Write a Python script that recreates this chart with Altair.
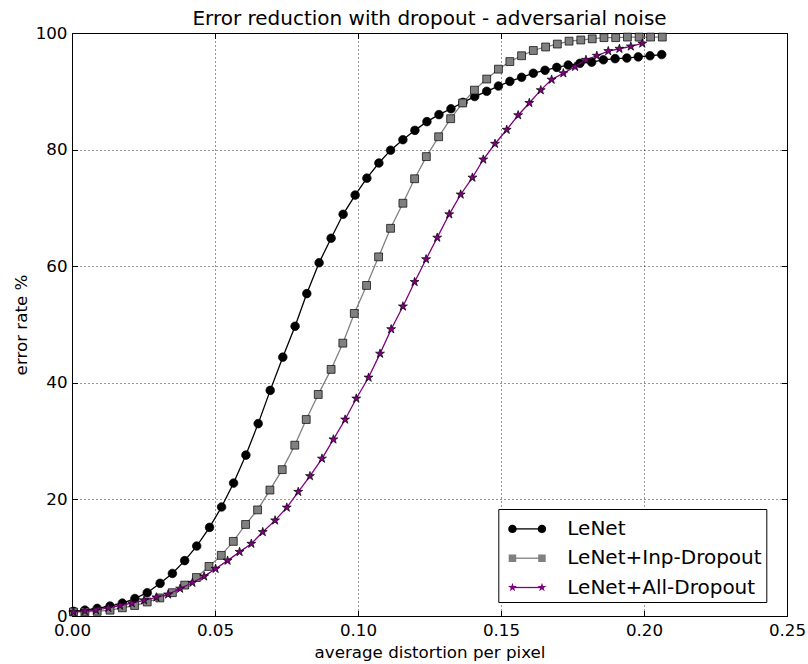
import math
import altair as alt
import pandas as pd

# ---------------- data ----------------
series_names = ["LeNet", "LeNet+Inp-Dropout", "LeNet+All-Dropout"]
series_colors = ["black", "#808080", "#800080"]
marker_fills = ["black", "#808080", "#800080"]

lenet_x = [0.0005, 0.0045, 0.0088, 0.0133, 0.0176, 0.0220, 0.0263, 0.0308, 0.0351, 0.0394,
           0.0436, 0.0481, 0.0523, 0.0565, 0.0608, 0.0651, 0.0693, 0.0737, 0.0780, 0.0821,
           0.0864, 0.0906, 0.0948, 0.0990, 0.1031, 0.1073, 0.1114, 0.1157, 0.1199, 0.1241,
           0.1283, 0.1325, 0.1367, 0.1408, 0.1450, 0.1491, 0.1531, 0.1572, 0.1613, 0.1654,
           0.1695, 0.1735, 0.1776, 0.1817, 0.1858, 0.1899, 0.1940, 0.1980, 0.2021, 0.2062]
lenet_y = [0.8, 1.0, 1.3, 1.7, 2.2, 3.0, 4.0, 5.6, 7.3, 9.5,
           12.0, 15.2, 18.7, 22.8, 27.6, 33.0, 38.7, 44.4, 49.7, 55.3,
           60.6, 64.8, 68.9, 72.2, 75.1, 77.7, 79.9, 81.7, 83.3, 84.8,
           86.0, 87.0, 88.1, 89.1, 90.0, 90.9, 91.7, 92.4, 93.1, 93.6,
           94.1, 94.5, 94.8, 95.0, 95.4, 95.6, 95.7, 95.9, 96.1, 96.3]

inp_x = [0.0005, 0.0045, 0.0088, 0.0133, 0.0176, 0.0219, 0.0263, 0.0307, 0.0351, 0.0394,
         0.0435, 0.0479, 0.0522, 0.0564, 0.0607, 0.0649, 0.0692, 0.0735, 0.0779, 0.0819,
         0.0861, 0.0906, 0.0947, 0.0987, 0.1030, 0.1072, 0.1114, 0.1157, 0.1198, 0.1239,
         0.1282, 0.1324, 0.1366, 0.1407, 0.1450, 0.1491, 0.1531, 0.1572, 0.1613, 0.1656,
         0.1697, 0.1738, 0.1779, 0.1819, 0.1860, 0.1901, 0.1942, 0.1983, 0.2023, 0.2064]
inp_y = [0.7, 0.7, 0.8, 1.0, 1.4, 1.8, 2.4, 3.1, 4.0, 5.3,
         6.6, 8.5, 10.4, 12.8, 15.7, 18.2, 21.6, 25.1, 29.3, 33.7,
         38.0, 42.3, 46.8, 51.9, 56.7, 61.6, 66.5, 70.8, 75.0, 78.8,
         82.2, 85.3, 88.0, 90.2, 92.1, 93.8, 95.1, 96.1, 97.0, 97.6,
         98.1, 98.6, 98.8, 99.0, 99.2, 99.2, 99.3, 99.3, 99.3, 99.3]

all_x = [0.0005, 0.0045, 0.0084, 0.0127, 0.0168, 0.0209, 0.0252, 0.0295, 0.0336, 0.0378,
         0.0421, 0.0462, 0.0502, 0.0544, 0.0586, 0.0627, 0.0667, 0.0710, 0.0751, 0.0791,
         0.0832, 0.0874, 0.0914, 0.0955, 0.0994, 0.1037, 0.1077, 0.1116, 0.1157, 0.1198,
         0.1238, 0.1277, 0.1319, 0.1359, 0.1400, 0.1438, 0.1479, 0.1520, 0.1560, 0.1599,
         0.1639, 0.1677, 0.1718, 0.1759, 0.1797, 0.1835, 0.1875, 0.1914, 0.1954, 0.1994]
all_y = [0.7, 0.85, 1.0, 1.4, 1.8, 2.2, 2.7, 3.2, 3.7, 4.7,
         5.7, 6.8, 8.1, 9.5, 11.0, 12.4, 14.4, 16.4, 18.6, 21.3,
         24.0, 27.0, 30.3, 33.7, 37.3, 40.9, 45.0, 49.2, 53.1, 57.3,
         61.2, 64.9, 68.9, 72.3, 75.2, 78.3, 81.0, 83.4, 85.9, 88.0,
         90.2, 92.0, 93.1, 94.2, 95.4, 96.1, 96.9, 97.3, 97.7, 98.2]

x_ticks = [0.0, 0.05, 0.10, 0.15, 0.20, 0.25]
y_ticks = [0, 20, 40, 60, 80, 100]
marker_keys = ["k1", "k2", "k3"]

rows = []
for name, xs, ys in zip(series_names, [lenet_x, inp_x, all_x], [lenet_y, inp_y, all_y]):
    for xv, yv in zip(xs, ys):
        rows.append({"series": name, "x": xv, "y": yv})
df = pd.DataFrame(rows)

# ---------------- style helpers ----------------
W, H = 715, 583
FONT = "DejaVu Sans"


def star_path(cx, R, ratio=0.382):
    pts = []
    for k in range(10):
        ang = math.radians(-90 + 36 * k)
        rr = R if k % 2 == 0 else R * ratio
        pts.append((cx + rr * math.cos(ang), rr * math.sin(ang)))
    return "M" + "L".join(f"{px:.3f} {py:.3f}" for px, py in pts) + "Z"


def circle_path(cx, r):
    return (f"M{cx - r:.3f} 0A{r:.3f} {r:.3f} 0 1 1 {cx + r:.3f} 0"
            f"A{r:.3f} {r:.3f} 0 1 1 {cx - r:.3f} 0Z")


def square_path(cx, h):
    return (f"M{cx - h:.3f} {-h:.3f}L{cx + h:.3f} {-h:.3f}L{cx + h:.3f} {h:.3f}"
            f"L{cx - h:.3f} {h:.3f}Z")


# legend symbols: unit = sqrt(symbolSize)/2 pixels
BOUNDS = "M-1.34 -0.34M1.34 0.34"
legend_line_path = BOUNDS + "M-1 0L1 0"
legend_marker_paths = [
    BOUNDS + circle_path(-1, 0.285) + circle_path(1, 0.285),
    BOUNDS + square_path(-1, 0.255) + square_path(1, 0.255),
    BOUNDS + star_path(-1, 0.32) + star_path(1, 0.32),
]
plot_star = star_path(0, 1.0)

LEG_X, LEG_Y = 426.3, 476
common_leg = dict(
    title=None, orient="none", legendX=LEG_X, legendY=LEG_Y, padding=4.4,
    symbolSize=870, symbolOffset=9.0, labelOffset=24.6, rowPadding=3.3,
    labelFont=FONT, labelFontSize=20, labelColor="black", labelLimit=500,
)
# legend with frame, labels and the line part of each handle
legend_lines = alt.Legend(
    symbolType=legend_line_path, symbolStrokeWidth=1.3,
    strokeColor="black", fillColor="white", cornerRadius=0,
    labelExpr="datum.label + '\u00a0\u2009'", **common_leg,
)
# legend drawn on top with the two markers of each handle
legend_marks = alt.Legend(
    symbolStrokeColor="black", symbolStrokeWidth=0.7, labelExpr="''", **common_leg,
)

xscale = alt.Scale(domain=[0, 0.25], nice=False, zero=False)
yscale = alt.Scale(domain=[0, 100], nice=False, zero=False)

ax_x_main = alt.Axis(orient="bottom", values=x_ticks, format=".2f", grid=True, tickSize=0,
                     labelPadding=6, labelFlush=False, domain=False,
                     title="average distortion per pixel", titlePadding=6)
ax_y_main = alt.Axis(orient="left", values=y_ticks, grid=True, tickSize=0, labelPadding=5,
                     domain=False, title="error rate %", titlePadding=5)
tick_common = dict(labels=False, grid=False, domain=False, tickSize=5.5, title=None,
                   tickColor="black", tickWidth=1)
ax_x_bot_in = alt.Axis(orient="top", offset=-H, values=x_ticks, **tick_common)
ax_x_top_in = alt.Axis(orient="bottom", offset=-H, values=x_ticks, **tick_common)
ax_y_left_in = alt.Axis(orient="right", offset=-W, values=y_ticks, **tick_common)
ax_y_right_in = alt.Axis(orient="left", offset=-W, values=y_ticks, **tick_common)

base = alt.Chart(df)


def line_layer(name, color, xaxis, yaxis):
    return base.transform_filter(alt.datum.series == name).mark_line(
        strokeWidth=1.3, color=color
    ).encode(
        x=alt.X("x:Q", scale=xscale, axis=xaxis),
        y=alt.Y("y:Q", scale=yscale, axis=yaxis),
        order=alt.Order("x:Q"),
    )


def marker_layer(name, shape, size, fill, xaxis=None, yaxis=None):
    return base.transform_filter(alt.datum.series == name).mark_point(
        shape=shape, size=size, filled=True, fill=fill, stroke="black",
        strokeWidth=0.7, opacity=1
    ).encode(
        x=alt.X("x:Q", scale=xscale, axis=xaxis),
        y=alt.Y("y:Q", scale=yscale, axis=yaxis),
    )


l1 = line_layer(series_names[0], series_colors[0], ax_x_main, ax_y_main)
m1 = marker_layer(series_names[0], "circle", 74, marker_fills[0], ax_x_bot_in, ax_y_left_in)
l2 = line_layer(series_names[1], series_colors[1], ax_x_top_in, ax_y_right_in)
m2 = marker_layer(series_names[1], "square", 62, marker_fills[1])
l3 = line_layer(series_names[2], series_colors[2], None, None)
m3 = marker_layer(series_names[2], plot_star, 88, marker_fills[2])

# legend-only layers (no rows pass the filter; the legends come from explicit scale domains)
leg_lines_df = pd.DataFrame({"name": series_names})
leg_lines_layer = alt.Chart(leg_lines_df).transform_filter("false").mark_point(
    filled=False, strokeWidth=1.3, opacity=1
).encode(
    stroke=alt.Stroke("name:N", scale=alt.Scale(domain=series_names, range=series_colors),
                      legend=legend_lines),
)

leg_marks_df = pd.DataFrame({"key": marker_keys})
leg_marks_layer = alt.Chart(leg_marks_df).transform_filter("false").mark_point(
    filled=True, stroke="black", strokeWidth=0.7, opacity=1
).encode(
    fill=alt.Fill("key:N", scale=alt.Scale(domain=marker_keys, range=marker_fills), legend=legend_marks),
    shape=alt.Shape("key:N", scale=alt.Scale(domain=marker_keys, range=legend_marker_paths), legend=legend_marks),
)

chart = alt.layer(l1, m1, l2, m2, l3, m3, leg_lines_layer, leg_marks_layer).resolve_axis(
    x="independent", y="independent"
).properties(
    width=W, height=H,
    title=alt.TitleParams("Error reduction with dropout - adversarial noise", font=FONT,
                          fontSize=20, fontWeight="normal", color="black", anchor="middle",
                          baseline="alphabetic", offset=3, dy=23),
    autosize=alt.AutoSizeParams(type="none"),
    padding={"left": 72, "top": 33, "right": 21, "bottom": 48},
).configure_view(
    stroke="black", strokeWidth=1
).configure_axis(
    gridColor="black", gridDash=[1, 3], gridWidth=0.8, gridOpacity=1,
    labelFont=FONT, labelFontSize=16.7, labelColor="black",
    titleFont=FONT, titleFontSize=16.7, titleFontWeight="normal", titleColor="black",
    tickColor="black",
)

chart.save("out.html", embed_options={"renderer": "svg", "actions": False})
